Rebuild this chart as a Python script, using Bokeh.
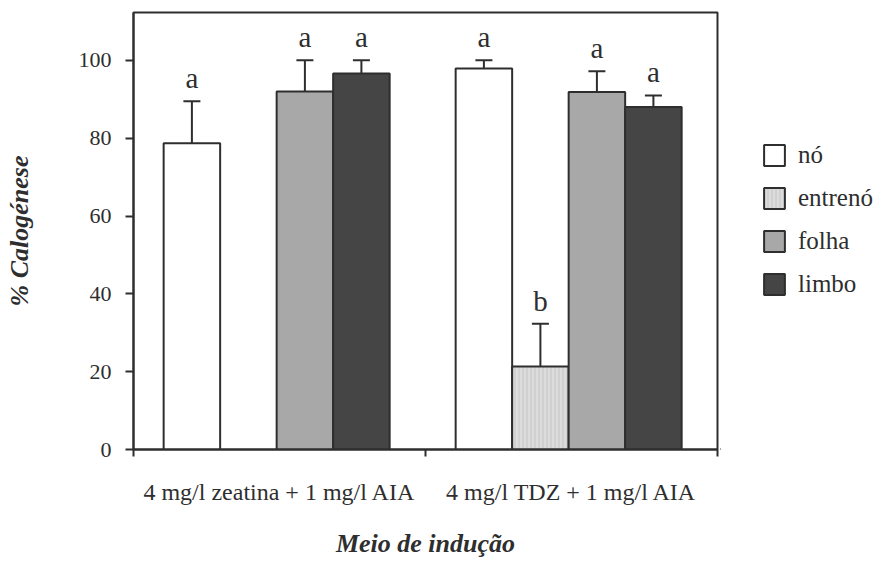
from bokeh.plotting import figure
from bokeh.layouts import row
from bokeh.models import (ColumnDataSource, Range1d, FixedTicker, Whisker, TeeHead,
                          LabelSet, Legend, LegendItem)
from bokeh.embed import file_html
from bokeh.resources import INLINE

# Induction media (x groups) and explant types (bars within a group)
media = ["4 mg/l zeatina + 1 mg/l AIA", "4 mg/l TDZ + 1 mg/l AIA"]
tissues = ["nó", "entrenó", "folha", "limbo"]

# % callus formation (mean) and error per explant, one value per medium
no_pct = [78.7, 97.9]
no_err = [10.8, 2.1]
entreno_pct = [None, 21.3]
entreno_err = [None, 11.0]
folha_pct = [92.0, 91.9]
folha_err = [8.0, 5.3]
limbo_pct = [96.6, 88.0]
limbo_err = [3.4, 3.0]

# significance letters
no_sig = ["a", "a"]
entreno_sig = ["", "b"]
folha_sig = ["a", "a"]
limbo_sig = ["a", "a"]

y_ticks = [0, 20, 40, 60, 80, 100]

series = [
    (tissues[0], no_pct, no_err, no_sig),
    (tissues[1], entreno_pct, entreno_err, entreno_sig),
    (tissues[2], folha_pct, folha_err, folha_sig),
    (tissues[3], limbo_pct, limbo_err, limbo_sig),
]
styles = {
    "nó": dict(fill_color="white", hatch_pattern=None),
    "entrenó": dict(fill_color="#dcdcdc", hatch_pattern="|", hatch_color="#c4c4c4",
                    hatch_scale=4, hatch_weight=1),
    "folha": dict(fill_color="#a8a8a8", hatch_pattern=None),
    "limbo": dict(fill_color="#454545", hatch_pattern=None),
}

INK = "#2e2e2e"
FONT = "Liberation Serif"
SLOT = 0.1935      # width of one bar slot, in group units
FIRST = 0.2        # centre of the first slot from the group start

p = figure(width=720, height=565, output_backend="svg", toolbar_location=None,
           x_range=Range1d(0, 2), y_range=Range1d(0, 112.3),
           min_border_left=133, min_border_right=3, min_border_top=12,
           min_border_bottom=116)
p.background_fill_color = "white"
p.border_fill_color = "white"
p.outline_line_color = INK
p.outline_line_width = 2
p.grid.visible = False

for k, (name, vals, errs, sig) in enumerate(series):
    xs, tops, uppers, letters = [], [], [], []
    for i, (v, e, s) in enumerate(zip(vals, errs, sig)):
        if v is None:
            continue
        xs.append(i + FIRST + k * SLOT)
        tops.append(v)
        uppers.append(v + e)
        letters.append(s)
    src = ColumnDataSource(dict(x=xs, top=tops, upper=uppers, sig=letters))
    p.vbar(x="x", top="top", bottom=0, width=SLOT, source=src,
           line_color=INK, line_width=2, **styles[name])
    p.add_layout(Whisker(base="x", lower="top", upper="upper", source=src,
                         line_color=INK, line_width=2,
                         upper_head=TeeHead(size=17, line_color=INK, line_width=2),
                         lower_head=None))
    p.add_layout(LabelSet(x="x", y="upper", text="sig", source=src, y_offset=13,
                          text_align="center", text_baseline="alphabetic",
                          text_font=FONT, text_font_size="29px", text_color=INK))

# y axis
ya = p.yaxis[0]
ya.ticker = FixedTicker(ticks=y_ticks, minor_ticks=[])
ya.axis_line_color = INK
ya.axis_line_width = 2
ya.major_tick_line_color = INK
ya.major_tick_line_width = 2
ya.major_tick_out = 8
ya.major_tick_in = 0
ya.major_label_standoff = 14
ya.major_label_text_font = FONT
ya.major_label_text_font_size = "22px"
ya.major_label_text_color = INK
ya.axis_label = "% Calogénese"
ya.axis_label_text_font = FONT
ya.axis_label_text_font_style = "bold italic"
ya.axis_label_text_font_size = "26px"
ya.axis_label_text_color = INK
ya.axis_label_standoff = 42

# x axis: group names centred, tick marks at group boundaries
xa = p.xaxis[0]
xa.ticker = FixedTicker(ticks=[0.5, 1.5], minor_ticks=[0, 1, 2])
xa.major_label_overrides = {0.5: media[0], 1.5: media[1]}
xa.axis_line_color = INK
xa.axis_line_width = 2
xa.major_tick_out = 0
xa.major_tick_in = 0
xa.minor_tick_line_color = INK
xa.minor_tick_line_width = 2
xa.minor_tick_out = 7
xa.minor_tick_in = 0
xa.major_label_standoff = 22
xa.major_label_text_font = FONT
xa.major_label_text_font_size = "24px"
xa.major_label_text_color = INK
xa.axis_label = "Meio de indução"
xa.axis_label_text_font = FONT
xa.axis_label_text_font_style = "bold italic"
xa.axis_label_text_font_size = "26px"
xa.axis_label_text_color = INK
xa.axis_label_standoff = 21

# side panel holding the legend; each swatch renderer is a zero-height bar
# parked outside the panel's range so only its legend entry shows
side = figure(width=161, height=565, output_backend="svg", toolbar_location=None,
              x_range=Range1d(0, 1), y_range=Range1d(0, 1),
              x_axis_type=None, y_axis_type=None,
              min_border=0, outline_line_color=None)
side.grid.visible = False
side.background_fill_color = "white"
side.border_fill_color = "white"

legend_items = []
for name in tissues:
    r = side.vbar(x=[-5], top=[0], width=0.1, line_color=INK, line_width=2,
                  **styles[name])
    legend_items.append(LegendItem(label=name, renderers=[r]))

# the row aligns this panel's frame with the chart's frame
legend = Legend(items=legend_items, location=(41, 151), orientation="vertical",
                glyph_width=26, glyph_height=26, label_height=26, spacing=15,
                padding=0, margin=0, label_standoff=11,
                label_text_font=FONT, label_text_font_size="25px",
                label_text_color=INK, border_line_alpha=0,
                background_fill_alpha=0)
side.add_layout(legend)

layout = row(p, side, spacing=0)
open("out.html", "w").write(file_html(layout, INLINE))
